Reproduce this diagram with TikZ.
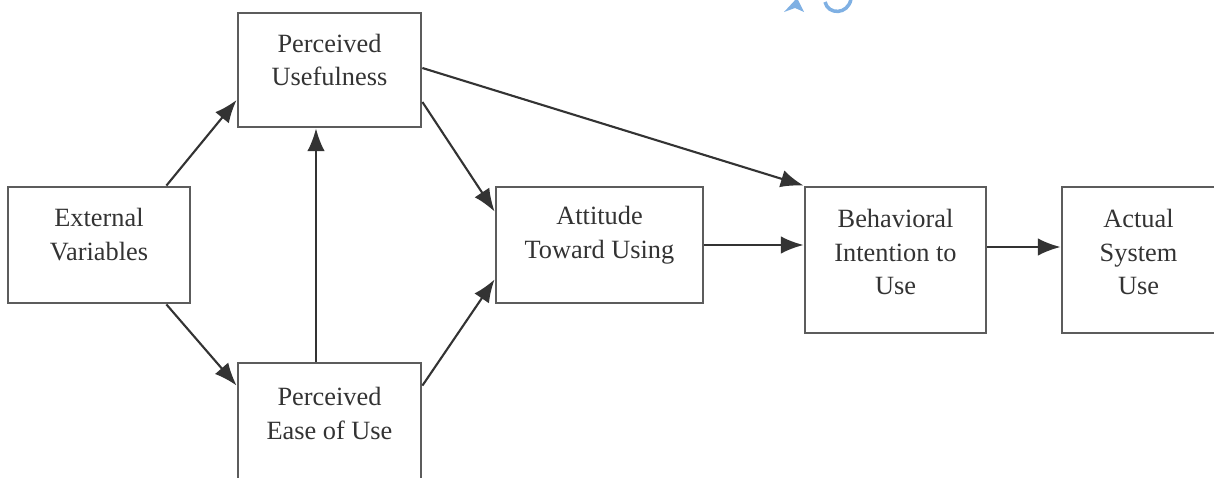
\documentclass[tikz,border=0pt]{standalone}
\usepackage{fontspec}
\setmainfont{Liberation Serif}
\usetikzlibrary{arrows.meta}
\definecolor{iconblue}{HTML}{7FB0E3}
\definecolor{ink}{HTML}{333333}
\begin{document}
\begin{tikzpicture}[x=0.02cm,y=-0.02cm,
  box/.style={draw=ink!80, line width=1.6pt, fill=none, inner sep=0pt},
  lbl/.style={text=ink, align=center, font=\fontsize{15}{19.3}\selectfont, inner sep=0pt},
  conn/.style={draw=ink, line width=1.2pt, -{Latex[length=13pt,width=10pt]}}]
\useasboundingbox (0,0) rectangle (1214,477);
\clip (0,0) rectangle (1214,477);
% boxes
\node[box, minimum width=3.64cm, minimum height=2.32cm] (ev) at (99,245) {};
\node[box, minimum width=3.66cm, minimum height=2.28cm] (pu) at (329.5,70) {};
\node[box, minimum width=3.66cm, minimum height=2.34cm] (peou) at (329.5,421.5) {};
\node[box, minimum width=4.14cm, minimum height=2.32cm] (atu) at (599.5,245) {};
\node[box, minimum width=3.62cm, minimum height=2.92cm] (bi) at (895.5,260) {};
\node[box, minimum width=3.06cm, minimum height=2.92cm] (asu) at (1138.5,260) {};
% labels
\node[lbl] (evt) at ([yshift=0.2cm]ev.center) {External\\Variables};
\node[lbl] (put) at ([yshift=0.2cm]pu.center) {Perceived\\Usefulness};
\node[lbl] (peout) at ([yshift=0.16cm]peou.center) {Perceived\\Ease of Use};
\node[lbl] (atut) at ([yshift=0.2cm]atu.center) {Attitude\\Toward Using};
\node[lbl] (bit) at ([yshift=0.16cm]bi.center) {Behavioral\\Intention to\\Use};
\node[lbl] (asut) at ([yshift=0.16cm]asu.center) {Actual\\System\\Use};
% connectors
\draw[conn] ([xshift=-0.5cm]ev.north east) -- ([yshift=-0.6cm]pu.west);
\draw[conn] ([xshift=-0.5cm]ev.south east) -- ([yshift=-0.48cm]peou.north west);
\draw[conn] ([xshift=-0.27cm]peou.north) -- ([xshift=-0.27cm]pu.south);
\draw[conn] ([yshift=-0.64cm]pu.east) -- ([yshift=-0.52cm]atu.north west);
\draw[conn] ([yshift=0.04cm]pu.east) -- (bi.north west);
\draw[conn] ([yshift=-0.48cm]peou.north east) -- ([yshift=0.5cm]atu.south west);
\draw[conn] (atu.east) -- (atu.east -| bi.west);
\draw[conn] ([yshift=0.26cm]bi.east) -- ([yshift=0.26cm]asu.west);
% partial blue icon at top edge
\fill[iconblue] (784,12) -- (797,-2) -- (804,12) -- (795,8) -- cycle;
\draw[iconblue, line width=2pt] (825,2) .. controls (828,15) and (848,15) .. (851,-1);
\end{tikzpicture}
\end{document}
